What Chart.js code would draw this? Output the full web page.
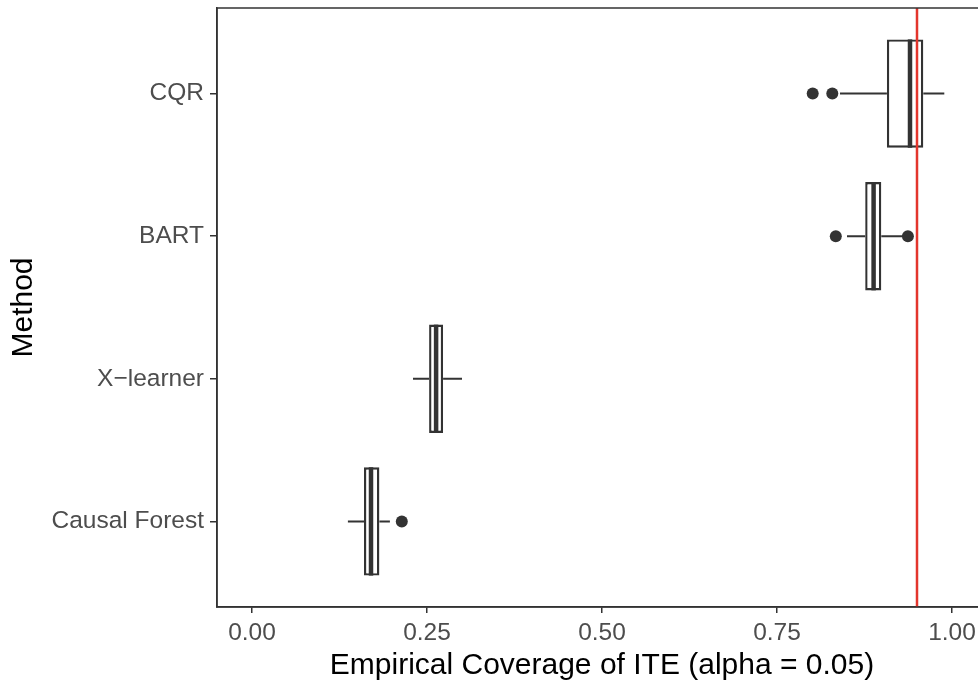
<!DOCTYPE html>
<html>
<head>
<meta charset="utf-8">
<script src="https://cdn.jsdelivr.net/npm/chart.js@4.4.0/dist/chart.umd.min.js"></script>
<style>
  html, body { margin: 0; padding: 0; background: #fff; }
  #wrap { width: 978px; height: 685px; overflow: hidden; }
</style>
</head>
<body>
<div id="wrap"><canvas id="coverage" width="1000" height="685"></canvas></div>
<script>
// methods from bottom (level 1) to top (level 4)
const methods = ['Causal Forest', 'X\u2212learner', 'BART', 'CQR'];
const lowerWhisker = [0.137, 0.230, 0.850, 0.840];
const q1 = [0.160, 0.253, 0.876, 0.907];
const medians = [0.170, 0.263, 0.888, 0.940];
const q3 = [0.182, 0.273, 0.899, 0.959];
const upperWhisker = [0.197, 0.300, 0.930, 0.989];
const outlierValues = [[0.214], [], [0.834, 0.937], [0.801, 0.829]];
const xTicks = [0, 0.25, 0.5, 0.75, 1];
const targetCoverage = 0.95;

const ink = '#333333';
const fontFamily = '"Liberation Sans", Arial, Helvetica, sans-serif';

// whiskers, medians, the target line and the panel frame
const boxParts = {
  id: 'boxParts',
  afterDatasetsDraw(chart) {
    const { ctx, chartArea, scales: { x, y } } = chart;
    const bars = chart.getDatasetMeta(0).data;
    ctx.save();
    ctx.beginPath();
    ctx.rect(chartArea.left, chartArea.top, chartArea.right - chartArea.left, chartArea.bottom - chartArea.top);
    ctx.clip();
    ctx.strokeStyle = ink;
    ctx.lineCap = 'butt';

    methods.forEach((m, i) => {
      const cy = y.getPixelForValue(i + 1);
      const half = bars[i].height / 2;

      ctx.lineWidth = 2;
      ctx.beginPath();
      ctx.moveTo(x.getPixelForValue(lowerWhisker[i]), cy);
      ctx.lineTo(x.getPixelForValue(q1[i]), cy);
      ctx.moveTo(x.getPixelForValue(q3[i]), cy);
      ctx.lineTo(x.getPixelForValue(upperWhisker[i]), cy);
      ctx.stroke();

      const mx = x.getPixelForValue(medians[i]);
      ctx.lineWidth = 4.5;
      ctx.beginPath();
      ctx.moveTo(mx, cy - half);
      ctx.lineTo(mx, cy + half);
      ctx.stroke();
    });

    const rx = x.getPixelForValue(targetCoverage);
    ctx.strokeStyle = '#e3352c';
    ctx.lineWidth = 2.5;
    ctx.beginPath();
    ctx.moveTo(rx, chartArea.top);
    ctx.lineTo(rx, chartArea.bottom);
    ctx.stroke();
    ctx.restore();

    ctx.save();
    ctx.strokeStyle = ink;
    ctx.lineWidth = 1.5;
    ctx.strokeRect(chartArea.left, chartArea.top, chartArea.right - chartArea.left, chartArea.bottom - chartArea.top);
    ctx.restore();
  }
};

const boxes = methods.map((m, i) => ({ x: [q1[i], q3[i]], y: i + 1 }));
const outliers = outlierValues.flatMap((vals, i) => vals.map(v => ({ x: v, y: i + 1 })));

new Chart(document.getElementById('coverage'), {
  type: 'bar',
  data: {
    datasets: [
      {
        type: 'bar',
        data: boxes,
        backgroundColor: '#ffffff',
        borderColor: ink,
        borderWidth: 2.4,
        borderSkipped: false,
        categoryPercentage: 1,
        barPercentage: 0.76
      },
      {
        type: 'scatter',
        data: outliers,
        pointRadius: 6,
        pointBackgroundColor: ink,
        pointBorderWidth: 0
      }
    ]
  },
  options: {
    indexAxis: 'y',
    responsive: false,
    animation: false,
    layout: { padding: { top: 8, right: 13, bottom: 0, left: 0 } },
    plugins: {
      legend: { display: false },
      tooltip: { enabled: false }
    },
    scales: {
      x: {
        type: 'linear',
        position: 'bottom',
        min: -0.05,
        max: 1.05,
        afterBuildTicks: (scale) => { scale.ticks = xTicks.map(v => ({ value: v })); },
        afterFit: (scale) => {
          scale.height = 78;
          scale.paddingLeft = 0;
          scale.paddingRight = 0;
        },
        ticks: {
          callback: (v) => Number(v).toFixed(2),
          color: '#4d4d4d',
          font: { family: fontFamily, size: 24.5 },
          padding: 6,
          maxRotation: 0
        },
        grid: { drawOnChartArea: false, drawTicks: true, tickLength: 6, color: ink, lineWidth: 1.5 },
        border: { display: true, color: ink, width: 1.5 },
        title: {
          display: true,
          text: 'Empirical Coverage of ITE (alpha = 0.05)',
          color: '#000000',
          font: { family: fontFamily, size: 30 },
          padding: { top: 0, bottom: 1 }
        }
      },
      y: {
        type: 'linear',
        position: 'left',
        min: 0.4,
        max: 4.6,
        offset: false,
        afterBuildTicks: (scale) => { scale.ticks = methods.map((m, i) => ({ value: i + 1 })); },
        afterFit: (scale) => {
          scale.width = 217;
          scale.paddingTop = 0;
          scale.paddingBottom = 0;
        },
        ticks: {
          callback: (v) => methods[v - 1],
          color: '#4d4d4d',
          font: { family: fontFamily, size: 24.5 },
          padding: 6
        },
        grid: { offset: false, drawOnChartArea: false, drawTicks: true, tickLength: 7, color: ink, lineWidth: 1.5 },
        border: { display: true, color: ink, width: 1.5 },
        title: {
          display: true,
          text: 'Method',
          color: '#000000',
          font: { family: fontFamily, size: 30 },
          padding: { top: 6, bottom: 0 }
        }
      }
    }
  },
  plugins: [boxParts]
});
</script>
</body>
</html>
